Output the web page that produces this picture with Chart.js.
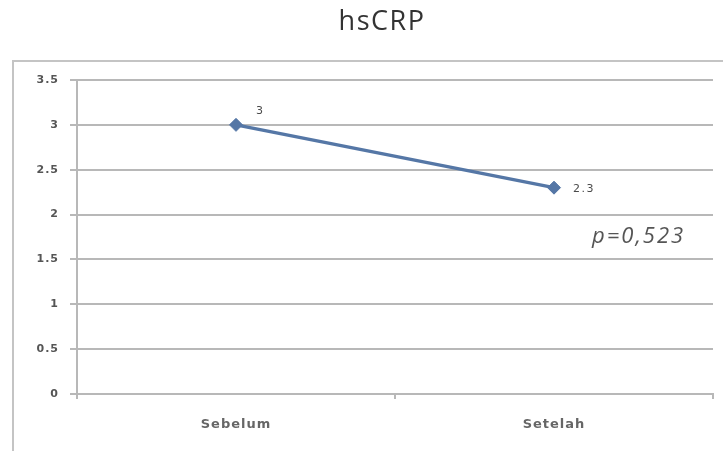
<!DOCTYPE html>
<html>
<head>
<meta charset="utf-8">
<script src="https://cdn.jsdelivr.net/npm/chart.js@4.4.1/dist/chart.umd.min.js"></script>
<style>
  html, body { margin: 0; padding: 0; background: #fff; }
  #wrap { width: 723px; height: 451px; }
</style>
</head>
<body>
<div id="wrap"><canvas id="c" width="723" height="451"></canvas></div>
<script>
// hsCRP before / after
const chartTitle = 'hsCRP';
const categories = ['Sebelum', 'Setelah'];
const hscrpValues = [3, 2.3];
const pValueText = 'p=0,523';
const yMin = 0, yMax = 3.5, yStep = 0.5;

const lineColor = '#5577a6';
const gridColor = '#b8b8b8';

// frame, title, value labels and p-value note
const decorations = {
  id: 'decorations',
  beforeDraw(chart) {
    const ctx = chart.ctx;
    ctx.save();
    ctx.fillStyle = '#fff';
    ctx.fillRect(0, 0, chart.width, chart.height);
    ctx.strokeStyle = '#c4c4c4';
    ctx.lineWidth = 2;
    ctx.beginPath();
    ctx.moveTo(13, chart.height);
    ctx.lineTo(13, 61);
    ctx.lineTo(chart.width, 61);
    ctx.stroke();
    ctx.fillStyle = '#333';
    ctx.font = '27px "Open Sans"';
    ctx.letterSpacing = '1.5px';
    ctx.textAlign = 'center';
    ctx.textBaseline = 'alphabetic';
    ctx.fillText(chartTitle, 382, 30);
    ctx.restore();
    // axis labels are set a little wide
    ctx.letterSpacing = '1px';
  },
  afterDatasetsDraw(chart) {
    const ctx = chart.ctx;
    const meta = chart.getDatasetMeta(0);
    ctx.save();
    ctx.fillStyle = '#4a4a4a';
    ctx.font = '11px "DejaVu Sans"';
    ctx.letterSpacing = '1.5px';
    ctx.textBaseline = 'middle';
    ctx.textAlign = 'left';
    meta.data.forEach((pt, i) => {
      const v = hscrpValues[i];
      if (i === 0) ctx.fillText(String(v), pt.x + 20, pt.y - 14);
      else ctx.fillText(String(v), pt.x + 19, pt.y + 1);
    });
    ctx.fillStyle = '#555';
    ctx.font = 'italic 22px "Open Sans"';
    ctx.letterSpacing = '2px';
    ctx.textAlign = 'left';
    ctx.textBaseline = 'alphabetic';
    ctx.fillText(pValueText, 592, 243);
    ctx.restore();
  }
};

new Chart(document.getElementById('c'), {
  type: 'line',
  data: {
    labels: categories,
    datasets: [{
      data: hscrpValues,
      borderColor: lineColor,
      backgroundColor: lineColor,
      borderWidth: 3.5,
      pointStyle: 'rectRot',
      pointRadius: 6.5,
      pointHoverRadius: 6.5,
      pointBorderWidth: 1,
      tension: 0
    }]
  },
  options: {
    responsive: false,
    animation: false,
    events: [],
    layout: { padding: { top: 80, left: 0, right: 10, bottom: 0 } },
    plugins: {
      legend: { display: false },
      title: { display: false },
      tooltip: { enabled: false }
    },
    scales: {
      x: {
        type: 'category',
        offset: true,
        grid: {
          offset: true,
          drawOnChartArea: false,
          drawTicks: true,
          tickLength: 5,
          color: gridColor,
          lineWidth: 2
        },
        border: { display: true, color: gridColor, width: 2 },
        ticks: { color: '#666', font: { family: 'DejaVu Sans', size: 13, weight: 'bold' }, padding: 18, maxRotation: 0 },
        afterFit(scale) { scale.height = 57; }
      },
      y: {
        min: yMin,
        max: yMax,
        ticks: {
          stepSize: yStep,
          color: '#555',
          font: { family: 'DejaVu Sans', size: 11, weight: 'bold' },
          padding: 11,
          callback: v => String(v)
        },
        grid: {
          color: gridColor,
          lineWidth: 2,
          drawTicks: true,
          tickLength: 7
        },
        border: { display: true, color: gridColor, width: 2 },
        afterFit(scale) { scale.width = 77; }
      }
    }
  },
  plugins: [decorations]
});
</script>
</body>
</html>
